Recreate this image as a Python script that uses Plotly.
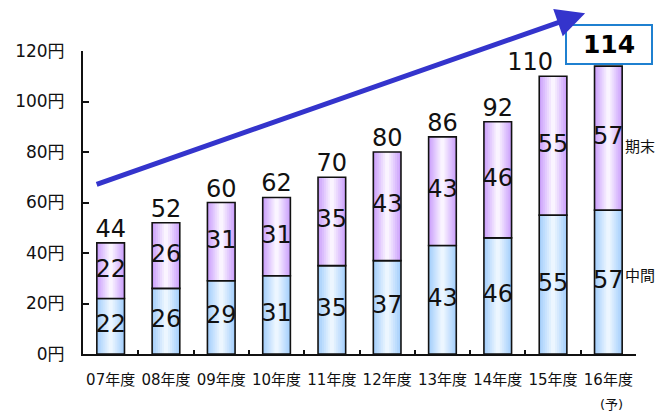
import plotly.graph_objects as go

# Dividend per share by fiscal year (yen)
years = ["07年度", "08年度", "09年度", "10年度", "11年度",
         "12年度", "13年度", "14年度", "15年度", "16年度"]
interim = [22, 26, 29, 31, 35, 37, 43, 46, 55, 57]
year_end = [22, 26, 31, 31, 35, 43, 43, 46, 55, 57]
totals = [44, 52, 60, 62, 70, 80, 86, 92, 110, 114]
y_ticks = [0, 20, 40, 60, 80, 100, 120]
y_tick_text = [f"{v}円" for v in y_ticks]

FONT = "DejaVu Sans, Noto Sans CJK JP"
BAR_W = 0.5


def mix(c1, c2, t):
    return "rgb({},{},{})".format(*[round(a + (b - a) * t) for a, b in zip(c1, c2)])


fig = go.Figure()

# Stepped horizontal shading: nested bars from edge colour to a pale centre
segments = [
    (interim, [0] * len(interim), (166, 208, 252), (236, 246, 255)),
    (year_end, interim, (204, 162, 252), (250, 244, 255)),
]
steps = 7
for vals, base, edge, centre in segments:
    for k in range(steps):
        t = k / (steps - 1)
        fig.add_trace(go.Bar(
            x=years, y=vals, base=base,
            width=BAR_W * (1 - 0.85 * t),
            marker=dict(color=mix(edge, centre, t), line=dict(width=0)),
            hoverinfo="skip", showlegend=False,
        ))
    # outline drawn on top
    fig.add_trace(go.Bar(
        x=years, y=vals, base=base, width=BAR_W,
        marker=dict(color="rgba(0,0,0,0)", line=dict(color="#111111", width=1.6)),
        hoverinfo="skip", showlegend=False,
    ))

# Segment value labels, centred in each stack part
fig.add_trace(go.Scatter(
    x=years, y=[v / 2 for v in interim], mode="text",
    text=[str(v) for v in interim],
    textfont=dict(family=FONT, size=24, color="#111111"),
    hoverinfo="skip", showlegend=False,
))
fig.add_trace(go.Scatter(
    x=years, y=[a + b / 2 for a, b in zip(interim, year_end)], mode="text",
    text=[str(v) for v in year_end],
    textfont=dict(family=FONT, size=24, color="#111111"),
    hoverinfo="skip", showlegend=False,
))

# Totals above the bars (last one is boxed separately; the one before it
# is pushed left to clear the box)
total_pos = ["top center"] * (len(totals) - 2) + ["top left"]
fig.add_trace(go.Scatter(
    x=years[:-1], y=totals[:-1], mode="text",
    text=[str(v) for v in totals[:-1]],
    textposition=total_pos,
    textfont=dict(family=FONT, size=24, color="#111111"),
    hoverinfo="skip", showlegend=False, cliponaxis=False,
))

annotations = [
    dict(x=years[-1], y=totals[-1], yanchor="bottom", yshift=1, xshift=1,
         text="<b>{}</b>".format(totals[-1]), showarrow=False,
         font=dict(family=FONT, size=25, color="#000000"),
         bordercolor="#1f80d0", borderwidth=2, borderpad=3,
         bgcolor="white", width=78, height=31),
    # growth arrow
    dict(x=8.58, y=135, ax=-0.28, ay=67, xref="x", yref="y",
         axref="x", ayref="y", showarrow=True, arrowhead=2,
         arrowsize=1.15, arrowwidth=5, arrowcolor="#3434cc",
         standoff=0, text=""),
    # series captions to the right of the last bar
    dict(x=years[-1], y=82, xshift=15,
         xanchor="left", text="期末", showarrow=False,
         font=dict(family=FONT, size=15, color="#111111")),
    dict(x=years[-1], y=31, xshift=15,
         xanchor="left", text="中間", showarrow=False,
         font=dict(family=FONT, size=15, color="#111111")),
    dict(x=years[-1], y=0, yshift=-50, xshift=3, text="(予)", showarrow=False,
         font=dict(family=FONT, size=13, color="#111111")),
]

fig.update_layout(
    width=659, height=412,
    margin=dict(l=83, r=23, t=51, b=58),
    paper_bgcolor="white", plot_bgcolor="white",
    barmode="overlay",
    annotations=annotations,
    font=dict(family=FONT, color="#111111"),
)
fig.update_xaxes(
    type="category", range=[-0.5, 9.5], automargin=False, tickangle=0,
    showline=True, linecolor="#111111", linewidth=2,
    ticks="inside", tickson="boundaries", ticklen=4, tickwidth=1.5,
    tickcolor="#111111", showgrid=False,
    tickfont=dict(family=FONT, size=15, color="#111111"),
    ticklabelstandoff=11,
)
fig.update_yaxes(
    range=[0, 120], tickvals=y_ticks, ticktext=y_tick_text, automargin=False,
    showline=True, linecolor="#111111", linewidth=2,
    ticks="inside", ticklen=6, tickwidth=1.5, tickcolor="#111111",
    showgrid=False, zeroline=False,
    tickfont=dict(family=FONT, size=17, color="#111111"),
    ticklabelstandoff=13,
)

fig.write_html("out.html")
